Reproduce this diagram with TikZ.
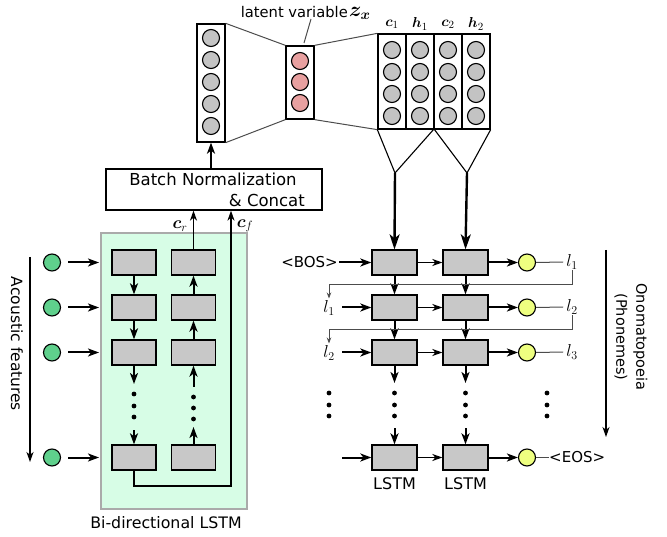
\documentclass[tikz,border=0pt]{standalone}
\usepackage{amsmath,bm}
\usepackage{fontspec}
\setmainfont{DejaVu Sans}
\usetikzlibrary{arrows.meta}
\definecolor{cellgray}{RGB}{200,200,200}
\definecolor{circgray}{RGB}{195,195,195}
\definecolor{pinkc}{RGB}{232,160,160}
\definecolor{greenc}{RGB}{95,208,140}
\definecolor{yellowc}{RGB}{238,255,128}
\definecolor{mint}{RGB}{215,253,230}
\definecolor{bgborder}{RGB}{170,170,170}
\tikzset{
  cell/.style={draw, fill=cellgray, minimum width=44pt, minimum height=25pt, inner sep=0pt, line width=1.3pt},
  neuron/.style={circle, draw, fill=circgray, minimum size=17pt, inner sep=0pt, line width=1.1pt},
  pneuron/.style={neuron, fill=pinkc},
  gneuron/.style={neuron, fill=greenc},
  yneuron/.style={neuron, fill=yellowc},
  vecbox/.style={draw, line width=1.3pt, inner sep=0pt},
  arr/.style={-{Stealth[length=11pt,width=8pt,inset=3pt]}, line width=2pt},
  harr/.style={-{Stealth[length=10pt,width=7pt,inset=3pt]}, line width=1.6pt},
  carr/.style={-{Stealth[length=10pt,width=7pt,inset=3pt]}, line width=1.3pt},
  bigarr/.style={-{Stealth[length=15pt,width=10pt,inset=4pt]}, line width=2.4pt},
  fb/.style={-{Stealth[length=6pt,width=4.5pt]}, line width=1pt, draw=black!70},
  thinline/.style={line width=1pt, draw=black!70},
  lbl/.style={font=\fontsize{15}{18}\selectfont, inner sep=1pt},
  mth/.style={font=\fontsize{17}{20}\selectfont, inner sep=0pt},
  dot/.style={circle, fill=black, minimum size=4.8pt, inner sep=0pt},
}
\begin{document}
\begin{tikzpicture}[x=1pt,y=-1pt]
\useasboundingbox (0,0) rectangle (667,537);
% ---------------- top vectors ----------------
\node[vecbox, minimum width=28pt, minimum height=118pt] (vec1) at (211,83) {};
\foreach \i/\yy in {1/38,2/60,3/82,4/104,5/126} \node[neuron] (v\i) at (211,\yy) {};
\node[vecbox, minimum width=28pt, minimum height=73pt] (zbox) at (300,82.5) {};
\foreach \i/\yy in {1/61,2/82,3/103} \node[pneuron] (z\i) at (300,\yy) {};
\node[vecbox, minimum width=112pt, minimum height=95pt] (hbox) at (434,81.5) {};
\foreach \xx in {406,434,462} \draw[line width=1.3pt] (\xx,34) -- (\xx,129);
\foreach \xx [count=\c] in {392,420,448,476}
  \foreach \yy [count=\r] in {50,72,94,116} \node[neuron] (h\c\r) at (\xx,\yy) {};
\node[font=\fontsize{15.5}{18}\selectfont] (lc1) at (392,24) {$\bm{c}_1$};
\node[font=\fontsize{15.5}{18}\selectfont] (lh1) at (420,24) {$\bm{h}_1$};
\node[font=\fontsize{15.5}{18}\selectfont] (lc2) at (448,24) {$\bm{c}_2$};
\node[font=\fontsize{15.5}{18}\selectfont] (lh2) at (476,24) {$\bm{h}_2$};
\node[font=\fontsize{14.7}{17}\selectfont, anchor=east, inner sep=0pt] (latent) at (348,12) {latent variable};
\node[font=\fontsize{22}{24}\selectfont, anchor=west, inner sep=0pt] (zx) at (349,13) {$\bm{z_x}$};
\coordinate (ptop) at (311,19);
\draw[thinline] (ptop) -- (304,43);
\draw[thinline] (vec1.north east) -- (zbox.north west);
\draw[thinline] (vec1.south east) -- (zbox.south west);
\draw[thinline] (zbox.north east) -- (hbox.north west);
\draw[thinline] (zbox.south east) -- (hbox.south west);
% V shapes
\coordinate (v1t) at (395,173);
\coordinate (v2t) at (467,173);
\coordinate (vm) at (434,129);
\draw[line width=1.1pt] (hbox.south west) -- (v1t) -- (vm) -- (v2t) -- (hbox.south east);
% ---------------- batch norm ----------------
\node[draw, line width=1.3pt, minimum width=216pt, minimum height=41pt, inner sep=0pt] (bn) at (214,189.5) {};
\node[font=\fontsize{16.5}{19}\selectfont, inner sep=0pt] (bnt1) at (213,179) {Batch Normalization};
\node[font=\fontsize{16.5}{19}\selectfont, inner sep=0pt, anchor=east] (bnt2) at (305,200) {\& Concat};
\draw[arr] (bn.north -| vec1.south) -- (vec1.south);
% ---------------- encoder ----------------
\node[draw=bgborder, fill=mint, line width=1.3pt, minimum width=146pt, minimum height=276pt, inner sep=0pt] (bg) at (174,371) {};
\node[lbl, font=\fontsize{15.8}{18}\selectfont] (bilbl) at (166,523) {Bi-directional LSTM};
\foreach \r/\yy in {1/262.5,2/307.5,3/352.5,4/457.5} {
  \node[cell] (e\r1) at (134,\yy) {};
  \node[cell] (e\r2) at (193.5,\yy) {};
  \node[gneuron] (g\r) at (52,\yy) {};
  \coordinate (gi\r) at (99,\yy);
  \draw[arr] ([xshift=7pt]g\r.east) -- (gi\r);
}
\draw[arr] (e11) -- (e21);
\draw[arr] (e21) -- (e31);
\draw[arr] (e22) -- (e12);
\draw[arr] (e32) -- (e22);
\coordinate (ea1) at (134,384);
\coordinate (ea2) at (134,430);
\draw[arr] (e31.south) -- (ea1);
\draw[arr] (ea2) -- (e41.north);
\foreach \yy in {394,406,417} \node[dot] at (134,\yy) {};
\coordinate (eb1) at (193.5,387);
\coordinate (eb2) at (193.5,427);
\draw[arr] (eb1) -- (e32.south);
\draw[arr] (e42.north) -- (eb2);
\foreach \yy in {397,408,419} \node[dot] at (193.5,\yy) {};
% c_r, c_f
\draw[carr] (e12.north) -- (e12.north |- bn.south);
\node[mth] (crl) at (180,226) {$\bm{c}_r$};
\coordinate (cfb) at (231,486);
\draw[carr] (e41.south) |- (cfb) -- (cfb |- bn.south);
\node[mth] (cfl) at (245,226) {$\bm{c}_f$};
% acoustic features
\coordinate (af1) at (30,257);
\coordinate (af2) at (30,462);
\draw[carr, line width=1.4pt] (af1) -- (af2);
\node[rotate=-90, font=\fontsize{15.5}{18}\selectfont] (aflbl) at (17,344) {Acoustic features};
% ---------------- decoder ----------------
\foreach \r/\yy in {1/262.5,2/307.5,3/352.5,4/457.5} {
  \node[cell, minimum width=45pt] (d\r1) at (394.5,\yy) {};
  \node[cell, minimum width=45pt] (d\r2) at (465.5,\yy) {};
  \node[yneuron] (y\r) at (527,\yy) {};
  \draw[harr] (d\r1) -- (d\r2);
  \draw[arr] (d\r2) -- (y\r);
  \coordinate (di\r) at (342,\yy);
}
\draw[bigarr] (v1t) -- (d11.north);
\draw[bigarr] (v2t) -- (d12.north);
\foreach \c in {1,2} {
  \draw[arr] (d1\c) -- (d2\c);
  \draw[arr] (d2\c) -- (d3\c);
}
\coordinate (da1) at (394.5,383);
\coordinate (da2) at (394.5,428);
\coordinate (db1) at (465.5,383);
\coordinate (db2) at (465.5,428);
\draw[arr] (d31.south) -- (da1);
\draw[arr] (da2) -- (d41.north);
\draw[arr] (d32.south) -- (db1);
\draw[arr] (db2) -- (d42.north);
\foreach \xx in {329,394.5,465.5,547}
  \foreach \yy in {393,405,416} \node[dot] at (\xx,\yy) {};
% inputs
\node[lbl, anchor=east] (bos) at (339,262.5) {<BOS>};
\draw[arr] (bos.east) -- (d11.west);
\node[mth] (ll1) at (329,308) {$l_1$};
\node[mth] (ll2) at (329,353) {$l_2$};
\draw[arr] (di2) -- (d21.west);
\draw[arr] (di3) -- (d31.west);
\draw[arr] (di4) -- (d41.west);
% outputs
\node[mth] (lr1) at (572,262) {$l_1$};
\node[mth] (lr2) at (572,307) {$l_2$};
\node[mth] (lr3) at (572,352) {$l_3$};
\draw[thinline] (y1.east) -- ([xshift=-3pt]lr1.west);
\draw[thinline] (y2.east) -- ([xshift=-3pt]lr2.west);
\draw[thinline] (y3.east) -- ([xshift=-3pt]lr3.west);
\node[lbl, anchor=west, inner sep=0pt] (eos) at (549,457.5) {<EOS>};
\draw[thinline] (y4.east) -- (eos.west);
% feedback
\coordinate (f1) at (0,284);
\coordinate (f2) at (0,329);
\draw[fb] ([yshift=-1pt]lr1.south) -- ([yshift=-1pt]lr1.south |- f1) -| ([yshift=2pt]ll1.north);
\draw[fb] ([yshift=-1pt]lr2.south) -- ([yshift=-1pt]lr2.south |- f2) -| ([yshift=2pt]ll2.north);
% LSTM labels
\node[lbl, font=\fontsize{16}{18}\selectfont] (lstm1) at (394.5,484) {LSTM};
\node[lbl, font=\fontsize{16}{18}\selectfont] (lstm2) at (465.5,484) {LSTM};
% right arrow
\coordinate (oa1) at (606,250);
\coordinate (oa2) at (606,437);
\draw[carr, line width=1.4pt] (oa1) -- (oa2);
\node[rotate=-90, align=center, font=\fontsize{14.5}{20}\selectfont] (onolbl) at (631,337) {Onomatopoeia\\(Phonemes)};
\end{tikzpicture}
\end{document}
